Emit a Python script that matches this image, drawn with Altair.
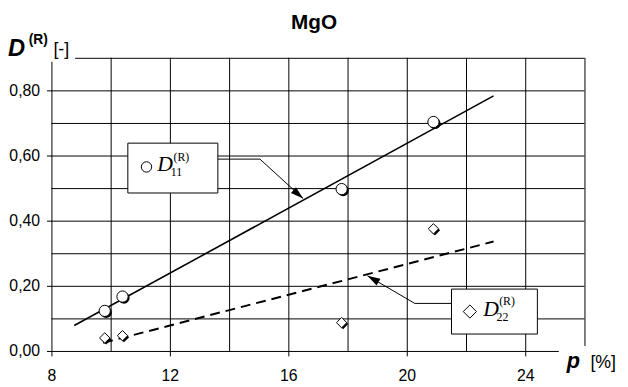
import altair as alt
import pandas as pd

# ---------------- data ----------------
p_vals = [9.8, 10.4, 17.8, 20.9]
d11_vals = [0.123, 0.167, 0.497, 0.703]
d22_vals = [0.040, 0.047, 0.087, 0.375]

fit11_p = [8.77, 22.93]
fit11_d = [0.078, 0.783]
fit22_p = [9.75, 22.93]
fit22_d = [0.025, 0.336]

x_ticks = [8, 12, 16, 20, 24]
y_ticks = [0.0, 0.2, 0.4, 0.6, 0.8]
x_grid = [10, 12, 14, 16, 18, 20, 22, 24, 26]
y_grid = [0.1, 0.2, 0.3, 0.4, 0.5, 0.6, 0.7, 0.8, 0.9]
x_domain = [8, 26]
y_domain = [0, 0.9]

# annotation boxes (data coordinates)
box_x = [10.58, 21.51]
box_x2 = [13.62, 24.41]
box_y = [0.638, 0.190]
box_y2 = [0.485, 0.052]

conn1_p = [13.62, 15.04, 16.50]
conn1_d = [0.589, 0.589, 0.468]
conn2_p = [21.51, 20.27, 18.67]
conn2_d = [0.146, 0.146, 0.231]
arrow_p = [16.50, 18.67]
arrow_d = [0.468, 0.231]
arrow_angle = [131, 300]

leg_circle = (11.21, 0.565)
leg_diamond = (22.13, 0.121)
leg_D_p = [11.57, 22.58]
leg_D_d = [0.551, 0.106]
leg_sub_p = [12.03, 23.03]
leg_sub_d = [0.536, 0.091]
leg_sub_t = ["11", "22"]
leg_sup_p = [12.12, 23.12]
leg_sup_d = [0.584, 0.141]

title_text = "MgO"

SANS = "Liberation Sans"
SERIF = "Liberation Serif"

# ---------------- scales / axes ----------------
xs = alt.Scale(domain=x_domain, nice=False, zero=False)
ys = alt.Scale(domain=y_domain, nice=False, zero=False)
x_axis = alt.Axis(values=x_ticks, grid=False, labelFont=SANS, labelFontSize=16,
                  labelColor="black", labelPadding=12, labelFlush=False,
                  tickSize=5, tickColor="black", domainColor="black",
                  labelOverlap=False)
y_axis = alt.Axis(values=y_ticks, grid=False, labelFont=SANS, labelFontSize=16,
                  labelColor="black", labelPadding=7, tickSize=5,
                  tickColor="black", domainColor="black", labelOverlap=False,
                  labelExpr="replace(format(datum.value, '.2f'), '.', ',')")


def X(f="x"):
    return alt.X(f + ":Q", scale=xs, axis=x_axis, title=None)


def Y(f="y"):
    return alt.Y(f + ":Q", scale=ys, axis=y_axis, title=None)


one = pd.DataFrame({"a": [0]})

vgrid = alt.Chart(pd.DataFrame({"x": x_grid})).mark_rule(
    color="black", strokeWidth=1, xOffset=0.5).encode(x=X())
hgrid = alt.Chart(pd.DataFrame({"y": y_grid})).mark_rule(
    color="black", strokeWidth=1, yOffset=0.5).encode(y=Y())

fit11 = alt.Chart(pd.DataFrame({"x": fit11_p, "y": fit11_d})).mark_line(
    color="black", strokeWidth=1.6).encode(x=X(), y=Y())
fit22 = alt.Chart(pd.DataFrame({"x": fit22_p, "y": fit22_d})).mark_line(
    color="black", strokeWidth=2, strokeDash=[10, 6]).encode(x=X(), y=Y())

pts11 = pd.DataFrame({"x": p_vals, "y": d11_vals})
pts22 = pd.DataFrame({"x": p_vals, "y": d22_vals})

c_shadow = alt.Chart(pts11).mark_point(shape="circle", filled=True, color="black",
                                       size=130, opacity=1, xOffset=1.5,
                                       yOffset=1.5).encode(x=X(), y=Y())
c_pts = alt.Chart(pts11).mark_point(shape="circle", filled=True, fill="white",
                                    stroke="black", strokeWidth=1, size=130,
                                    opacity=1).encode(x=X(), y=Y())
d_shadow = alt.Chart(pts22).mark_point(shape="diamond", filled=True, color="black",
                                       size=110, opacity=1, xOffset=1.5,
                                       yOffset=1.5).encode(x=X(), y=Y())
d_pts = alt.Chart(pts22).mark_point(shape="diamond", filled=True, fill="white",
                                    stroke="black", strokeWidth=1, size=110,
                                    opacity=1).encode(x=X(), y=Y())

conn1 = alt.Chart(pd.DataFrame({"x": conn1_p, "y": conn1_d, "i": [0, 1, 2]})).mark_line(
    color="black", strokeWidth=1).encode(x=X(), y=Y(), order="i:Q")
conn2 = alt.Chart(pd.DataFrame({"x": conn2_p, "y": conn2_d, "i": [0, 1, 2]})).mark_line(
    color="black", strokeWidth=1).encode(x=X(), y=Y(), order="i:Q")
arrows = alt.Chart(pd.DataFrame({"x": arrow_p, "y": arrow_d, "a": arrow_angle})).mark_point(
    shape="M0,0 L-0.3,1 L0.3,1 Z", filled=True, color="black", size=676,
    opacity=1).encode(x=X(), y=Y(), angle=alt.Angle("a:Q", scale=None))

boxes = alt.Chart(pd.DataFrame({"x": box_x, "x2": box_x2, "y": box_y, "y2": box_y2})).mark_rect(
    fill="white", stroke="black", strokeWidth=1).encode(
    x=X(), x2="x2:Q", y=Y(), y2="y2:Q")

leg_c = alt.Chart(pd.DataFrame({"x": [leg_circle[0]], "y": [leg_circle[1]]})).mark_point(
    shape="circle", filled=True, fill="white", stroke="black", strokeWidth=1,
    size=110, opacity=1).encode(x=X(), y=Y())
leg_d = alt.Chart(pd.DataFrame({"x": [leg_diamond[0]], "y": [leg_diamond[1]]})).mark_point(
    shape="diamond", filled=True, fill="white", stroke="black", strokeWidth=1,
    size=180, opacity=1).encode(x=X(), y=Y())

leg_D = alt.Chart(pd.DataFrame({"x": leg_D_p, "y": leg_D_d, "t": ["D", "D"]})).mark_text(
    font=SERIF, fontStyle="italic", fontSize=22, align="left", baseline="alphabetic",
    color="black").encode(x=X(), y=Y(), text="t:N")
leg_sub = alt.Chart(pd.DataFrame({"x": leg_sub_p, "y": leg_sub_d, "t": leg_sub_t})).mark_text(
    font=SERIF, fontSize=12, align="left", baseline="alphabetic",
    color="black").encode(x=X(), y=Y(), text="t:N")
leg_sup = alt.Chart(pd.DataFrame({"x": leg_sup_p, "y": leg_sup_d, "t": ["(R)", "(R)"]})).mark_text(
    font=SERIF, fontSize=12, align="left", baseline="alphabetic",
    color="black").encode(x=X(), y=Y(), text="t:N")

# covers where the axis titles interrupt the frame
cover_tl = alt.Chart(one).mark_rect(color="white").encode(
    x=alt.value(-52), x2=alt.value(24), y=alt.value(-40), y2=alt.value(4))
cover_br = alt.Chart(one).mark_rect(color="white").encode(
    x=alt.value(514), x2=alt.value(580), y=alt.value(292), y2=alt.value(340))

title = alt.Chart(pd.DataFrame({"t": [title_text]})).mark_text(
    font=SANS, fontWeight="bold", fontSize=21, align="center", baseline="alphabetic",
    color="black").encode(x=alt.value(266), y=alt.value(-29), text="t:N")

ytitle_D = alt.Chart(pd.DataFrame({"t": ["D"]})).mark_text(
    font=SANS, fontWeight="bold", fontStyle="italic", fontSize=24, align="left",
    baseline="alphabetic", color="black").encode(x=alt.value(-44), y=alt.value(-2), text="t:N")
ytitle_R = alt.Chart(pd.DataFrame({"t": ["(R)"]})).mark_text(
    font=SANS, fontWeight="bold", fontSize=14, align="left",
    baseline="alphabetic", color="black").encode(x=alt.value(-23), y=alt.value(-14), text="t:N")
ytitle_u = alt.Chart(pd.DataFrame({"t": ["[-]"]})).mark_text(
    font=SANS, fontSize=18, align="left",
    baseline="alphabetic", color="black").encode(x=alt.value(2), y=alt.value(-3), text="t:N")

xtitle_p = alt.Chart(pd.DataFrame({"t": ["p"]})).mark_text(
    font=SANS, fontWeight="bold", fontStyle="italic", fontSize=22, align="left",
    baseline="alphabetic", color="black").encode(x=alt.value(522), y=alt.value(314), text="t:N")
xtitle_u = alt.Chart(pd.DataFrame({"t": ["[%]"]})).mark_text(
    font=SANS, fontSize=18, align="left",
    baseline="alphabetic", color="black").encode(x=alt.value(546), y=alt.value(314), text="t:N")

chart = alt.layer(
    vgrid, hgrid, fit11, fit22, c_shadow, c_pts, d_shadow, d_pts,
    conn1, conn2, arrows, boxes, leg_c, leg_d, leg_D, leg_sub, leg_sup,
    cover_tl, cover_br, title, ytitle_D, ytitle_R, ytitle_u, xtitle_p, xtitle_u
).properties(
    width=540, height=297,
    padding={"left": 44, "top": 48, "right": 36, "bottom": 31},
    autosize=alt.AutoSizeParams(type="none"),
    background="white",
).configure_view(stroke=None)

chart.save("out.html", embed_options={"renderer": "svg", "actions": False})
